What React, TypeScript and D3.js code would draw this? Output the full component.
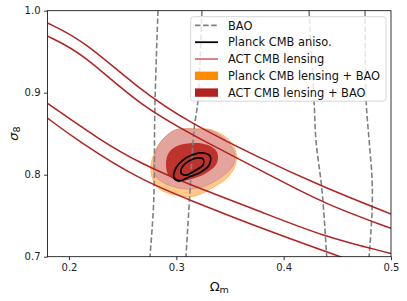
import React, { useEffect, useRef } from 'react';
import * as d3 from 'd3';

// BAO contours (Omega_m, sigma_8), nearly vertical bands
const baoLeft95 = [[0.2835, 1.01], [0.283, 1.0], [0.280, 0.879], [0.279, 0.769], [0.2755, 0.70], [0.275, 0.69]];
const baoLeft68 = [[0.3245, 1.01], [0.3239, 1.0], [0.3202, 0.891], [0.3165, 0.8545], [0.3128, 0.781], [0.309, 0.70], [0.3085, 0.69]];
const baoRight68 = [[0.4230, 1.01], [0.4236, 1.0], [0.4283, 0.891], [0.4301, 0.842], [0.4357, 0.781], [0.4401, 0.70], [0.4405, 0.69]];
const baoRight95 = [[0.4755, 1.01], [0.4758, 1.0], [0.4768, 0.891], [0.4796, 0.842], [0.4824, 0.7935], [0.4824, 0.757], [0.4796, 0.70], [0.479, 0.69]];

// ACT CMB lensing band edges
const actOuterTop = [[0.18, 0.985], [0.2134, 0.964], [0.2662, 0.903], [0.3128, 0.863], [0.3749, 0.822], [0.4369, 0.785], [0.5, 0.752]];
const actInnerTop = [[0.18, 0.969], [0.2134, 0.948], [0.2662, 0.883], [0.3300, 0.838], [0.3902, 0.7976], [0.4369, 0.765], [0.5, 0.7346]];
const actInnerBottom = [[0.18, 0.887], [0.2289, 0.8423], [0.2662, 0.814], [0.3128, 0.7874], [0.3749, 0.757], [0.4369, 0.7244], [0.5, 0.704]];
const actOuterBottom = [[0.18, 0.869], [0.2072, 0.8423], [0.2662, 0.7935], [0.3128, 0.769], [0.3749, 0.7366], [0.4525, 0.70], [0.47, 0.692]];

// filled contours
const planckLensBao95 = [[0.2988, 0.8533], [0.3174, 0.8557], [0.3333, 0.8545], [0.3482, 0.8435], [0.3556, 0.8277], [0.3547, 0.8106], [0.3472, 0.7960], [0.3333, 0.7838], [0.3174, 0.7740], [0.2988, 0.7752], [0.2829, 0.7840], [0.2764, 0.8026], [0.2783, 0.8221], [0.2848, 0.8387]];
const actLensBao95 = [[0.2988, 0.8545], [0.3174, 0.8557], [0.3333, 0.8533], [0.3472, 0.8410], [0.3547, 0.8240], [0.3519, 0.8094], [0.3407, 0.7960], [0.3239, 0.7850], [0.3081, 0.7826], [0.2904, 0.7887], [0.2801, 0.7996], [0.2792, 0.8179], [0.2848, 0.8387]];
const actLensBao68 = [[0.2988, 0.8338], [0.3146, 0.8387], [0.3295, 0.8362], [0.3379, 0.8277], [0.3379, 0.8143], [0.3295, 0.8033], [0.3174, 0.7960], [0.3034, 0.7923], [0.2932, 0.7984], [0.2904, 0.8118], [0.2923, 0.8252]];

// Planck CMB anisotropy contours
const planckOuter = [[0.2979, 0.7960], [0.2997, 0.8082], [0.3062, 0.8179], [0.3146, 0.8240], [0.3239, 0.8265], [0.3314, 0.8228], [0.3305, 0.8118], [0.3230, 0.8033], [0.3118, 0.7972], [0.3025, 0.7923]];
const planckInner = [[0.3044, 0.8020], [0.3062, 0.8106], [0.3118, 0.8167], [0.3193, 0.8204], [0.3249, 0.8191], [0.3249, 0.8118], [0.3183, 0.8057], [0.3090, 0.7996]];

const xTicks = [0.2, 0.3, 0.4, 0.5];
const yTicks = [0.7, 0.8, 0.9, 1.0];
const legendLabels = ['BAO', 'Planck CMB aniso.', 'ACT CMB lensing', 'Planck CMB lensing + BAO', 'ACT CMB lensing + BAO'];

function Chart() {
  const svgRef = useRef(null);

  useEffect(() => {
    const svg = d3.select(svgRef.current);
    svg.selectAll('*').remove();

    const left = 47.5, right = 391, top = 10.7, bottom = 256.7;
    const x = d3.scaleLinear().domain([0.18, 0.5]).range([left, right]);
    const y = d3.scaleLinear().domain([0.7, 1.0]).range([bottom, top]);
    const font = 'DejaVu Sans, sans-serif';

    svg.append('defs').append('clipPath').attr('id', 'plotclip')
      .append('rect').attr('x', left).attr('y', top)
      .attr('width', right - left).attr('height', bottom - top);

    const g = svg.append('g').attr('clip-path', 'url(#plotclip)');

    const open = d3.line().x(d => x(d[0])).y(d => y(d[1])).curve(d3.curveBasis);
    const vert = d3.line().x(d => x(d[0])).y(d => y(d[1])).curve(d3.curveCatmullRom);
    const closed = d3.line().x(d => x(d[0])).y(d => y(d[1])).curve(d3.curveCatmullRomClosed);

    // filled regions
    g.append('path').attr('d', closed(planckLensBao95)).attr('fill', '#ffc98a')
      .attr('stroke', '#ffb060').attr('stroke-width', 0.8);
    g.append('path').attr('d', closed(actLensBao95)).attr('fill', '#e2a29e').attr('fill-opacity', 0.95)
      .attr('stroke', '#d88a80').attr('stroke-width', 0.8);
    g.append('path').attr('d', closed(actLensBao68)).attr('fill', '#c0332c');

    // BAO
    [baoLeft95, baoLeft68, baoRight68, baoRight95].forEach(d => {
      g.append('path').attr('d', vert(d)).attr('fill', 'none')
        .attr('stroke', '#808080').attr('stroke-width', 1.6).attr('stroke-dasharray', '5.5,2.6');
    });

    // ACT lensing
    [actOuterTop, actInnerTop, actInnerBottom, actOuterBottom].forEach(d => {
      g.append('path').attr('d', open(d)).attr('fill', 'none')
        .attr('stroke', '#b22222').attr('stroke-width', 1.5);
    });

    // Planck aniso
    [planckOuter, planckInner].forEach(d => {
      g.append('path').attr('d', closed(d)).attr('fill', 'none')
        .attr('stroke', 'black').attr('stroke-width', 1.8);
    });

    // axes
    const xAxis = svg.append('g').attr('transform', `translate(0,${bottom})`)
      .call(d3.axisBottom(x).tickValues(xTicks).tickFormat(d3.format('.1f')).tickSize(3.5).tickPadding(3.5));
    const yAxis = svg.append('g').attr('transform', `translate(${left},0)`)
      .call(d3.axisLeft(y).tickValues(yTicks).tickFormat(d3.format('.1f')).tickSize(3.5).tickPadding(3.5));
    [xAxis, yAxis].forEach(a => {
      a.select('.domain').remove();
      a.selectAll('line').attr('stroke', 'black').attr('stroke-width', 0.8);
      a.selectAll('text').attr('font-family', font).attr('font-size', 10).attr('fill', '#222');
    });

    svg.append('rect').attr('x', left).attr('y', top)
      .attr('width', right - left).attr('height', bottom - top)
      .attr('fill', 'none').attr('stroke', 'black').attr('stroke-width', 0.8);

    // axis labels
    const xl = svg.append('text').attr('x', (left + right) / 2).attr('y', 291)
      .attr('text-anchor', 'middle').attr('font-family', font).attr('font-size', 13).attr('fill', '#111');
    xl.append('tspan').text('Ω');
    xl.append('tspan').attr('font-size', 9.5).attr('dy', 2).text('m');

    const yl = svg.append('text').attr('transform', `translate(17.5,${(top + bottom) / 2}) rotate(-90)`)
      .attr('text-anchor', 'middle').attr('font-family', font).attr('font-size', 13).attr('fill', '#111');
    yl.append('tspan').attr('font-style', 'italic').text('σ');
    yl.append('tspan').attr('font-size', 9.5).attr('dy', 2).text('8');

    // legend
    const lg = svg.append('g');
    lg.append('rect').attr('x', 190.7).attr('y', 16.7).attr('width', 195.3).attr('height', 84.5)
      .attr('rx', 3).attr('fill', 'white').attr('fill-opacity', 0.8)
      .attr('stroke', '#cccccc').attr('stroke-width', 0.8);
    const rowY = i => 25.4 + i * 16.8;
    const hx0 = 195, hx1 = 218;
    lg.append('line').attr('x1', hx0).attr('x2', hx1).attr('y1', rowY(0)).attr('y2', rowY(0))
      .attr('stroke', '#808080').attr('stroke-width', 1.6).attr('stroke-dasharray', '5.5,2.6');
    lg.append('line').attr('x1', hx0).attr('x2', hx1).attr('y1', rowY(1)).attr('y2', rowY(1))
      .attr('stroke', 'black').attr('stroke-width', 1.8);
    lg.append('line').attr('x1', hx0).attr('x2', hx1).attr('y1', rowY(2)).attr('y2', rowY(2))
      .attr('stroke', '#b22222').attr('stroke-width', 1.1);
    lg.append('rect').attr('x', hx0).attr('y', rowY(3) - 4.2).attr('width', hx1 - hx0).attr('height', 8.4)
      .attr('fill', '#ff8c00');
    lg.append('rect').attr('x', hx0).attr('y', rowY(4) - 4.2).attr('width', hx1 - hx0).attr('height', 8.4)
      .attr('fill', '#b22222');
    legendLabels.forEach((t, i) => {
      lg.append('text').attr('x', 228).attr('y', rowY(i)).attr('dy', '0.36em')
        .attr('font-family', font).attr('font-size', 11.4).attr('fill', '#111').text(t);
    });
  }, []);

  return <svg ref={svgRef} width={407} height={301} style={{ position: 'absolute', left: 0, top: 0 }}></svg>;
}

export default function App() {
  return <Chart />;
}
